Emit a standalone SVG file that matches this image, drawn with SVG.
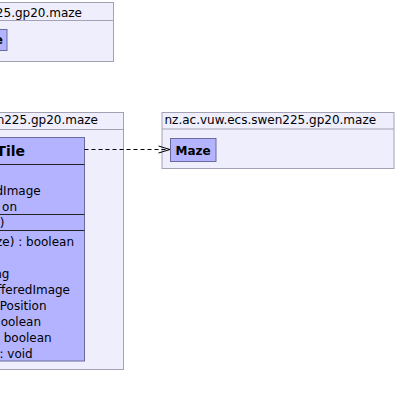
<svg xmlns="http://www.w3.org/2000/svg" width="402" height="407" viewBox="0 0 402 407">
<style>
.pkg{fill:#EEEEFD;stroke:#A2A2B4;stroke-width:1}
.cls{fill:#B3B3FF;stroke:#6A6A9C;stroke-width:1}
.sep{stroke:#222;stroke-width:1}
.t{font-family:"DejaVu Sans",sans-serif;font-size:12px;fill:#000}
.b{font-family:"DejaVu Sans",sans-serif;font-size:12px;font-weight:bold;fill:#000}
.title{font-family:"DejaVu Sans",sans-serif;font-size:14px;font-weight:bold;fill:#000}
.dep{fill:none;stroke:#000;stroke-width:1;stroke-dasharray:4,3}
.head{fill:none;stroke:#000;stroke-width:1}
</style>
<g id="pkg-top">
<rect class="pkg" x="-140" y="2.5" width="253.5" height="59"/>
<line class="pkg" x1="-140" y1="20.5" x2="113.5" y2="20.5"/>
<text class="t" x="82" y="17" text-anchor="end">225.gp20.maze</text>
<rect class="cls" x="-40" y="29.5" width="47" height="21"/>
<text class="b" x="3" y="44" text-anchor="end">e</text>
</g>
<g id="pkg-left">
<rect class="pkg" x="-120" y="112.5" width="243.5" height="257"/>
<line class="pkg" x1="-120" y1="129.5" x2="123.5" y2="129.5"/>
<text class="t" x="98" y="124" text-anchor="end">n225.gp20.maze</text>
</g>
<g id="Tile">
<rect class="cls" x="-62" y="137.5" width="146.5" height="223.5"/>
<text class="title" x="25" y="156" text-anchor="end">Tile</text>
<line class="sep" x1="-62" y1="164.5" x2="84.5" y2="164.5"/>
<text class="t" x="40.7" y="195" text-anchor="end">dImage</text>
<text class="t" x="17" y="211" text-anchor="end">on</text>
<line class="sep" x1="-62" y1="214.5" x2="84.5" y2="214.5"/>
<text class="t" x="4.5" y="227" text-anchor="end">)</text>
<line class="sep" x1="-62" y1="230.5" x2="84.5" y2="230.5"/>
<text class="t" x="74" y="246" text-anchor="end">ze) : boolean</text>
<text class="t" x="9.5" y="278" text-anchor="end">ng</text>
<text class="t" x="70" y="294" text-anchor="end">fferedImage</text>
<text class="t" x="46.5" y="310" text-anchor="end">Position</text>
<text class="t" x="41" y="326" text-anchor="end">oolean</text>
<text class="t" x="51.7" y="342" text-anchor="end">: boolean</text>
<text class="t" x="32.7" y="358" text-anchor="end">: void</text>
</g>
<g id="pkg-right">
<rect class="pkg" x="162" y="112.5" width="232" height="56"/>
<line class="pkg" x1="162" y1="129" x2="394" y2="129"/>
<text class="t" x="164.5" y="124">nz.ac.vuw.ecs.swen225.gp20.maze</text>
</g>
<g id="Maze">
<rect class="cls" x="170.5" y="138.5" width="45.5" height="23"/>
<text class="b" x="175.5" y="154.5">Maze</text>
</g>
<g id="connectors">
<line class="dep" x1="84.5" y1="149.5" x2="170" y2="149.5"/>
<polyline class="head" points="158.5,146 170,149.5 158.5,153"/>
</g>
</svg>
